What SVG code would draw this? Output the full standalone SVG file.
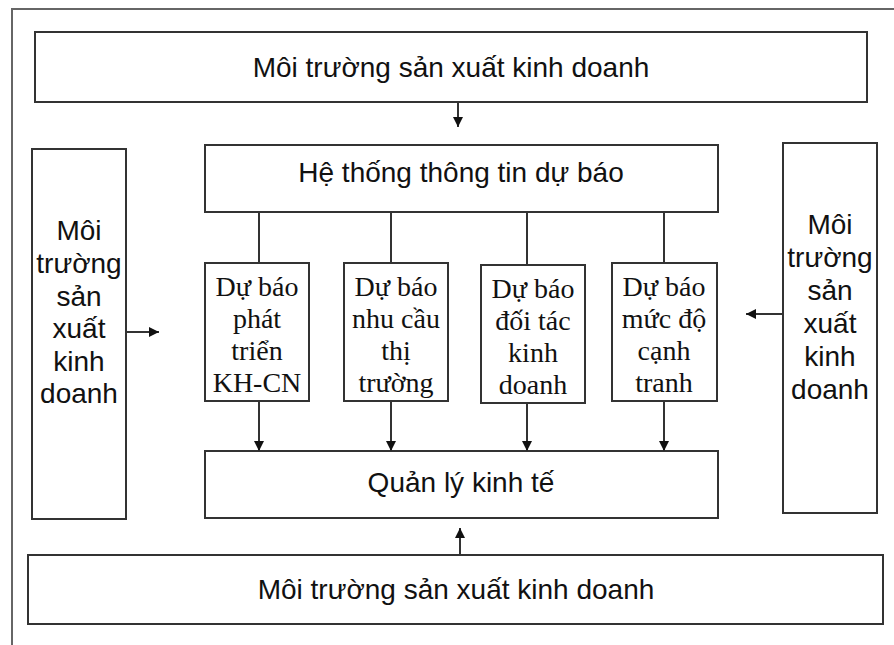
<svg xmlns="http://www.w3.org/2000/svg" width="894" height="645" viewBox="0 0 894 645">
  <style>
    .box { fill: #ffffff; stroke: #333333; stroke-width: 2; }
    .frame { fill: none; stroke: #666666; stroke-width: 2; }
    .link { fill: none; stroke: #333333; stroke-width: 2; }
    .sans { font-family: "Liberation Sans", Arial, sans-serif; font-size: 28px; fill: #111111; text-anchor: middle; }
    .serif { font-family: "Liberation Serif", "Times New Roman", serif; font-size: 28px; fill: #111111; text-anchor: middle; }
  </style>
  <defs>
    <marker id="arrow" viewBox="0 0 10 10" refX="10" refY="5" markerWidth="5.5" markerHeight="5" orient="auto" markerUnits="strokeWidth">
      <path d="M0,0 L10,5 L0,10 z" fill="#111111"/>
    </marker>
  </defs>

  <rect width="894" height="645" fill="#ffffff"/>

  <!-- open outer frame (left and top edges) -->
  <path class="frame" d="M12,645 V9 H894"/>

  <g id="env-top">
    <rect class="box" x="35" y="32" width="832" height="70"/>
    <text class="sans" x="451" y="77">Môi trường sản xuất kinh doanh</text>
  </g>

  <g id="forecast-system">
    <rect class="box" x="205" y="145" width="513" height="67"/>
    <text class="sans" x="461" y="182">Hệ thống thông tin dự báo</text>
  </g>

  <g id="env-left">
    <rect class="box" x="32" y="149" width="94" height="370"/>
    <text class="sans" x="79" y="240">Môi</text>
    <text class="sans" x="79" y="273">trường</text>
    <text class="sans" x="79" y="306">sản</text>
    <text class="sans" x="79" y="338">xuất</text>
    <text class="sans" x="79" y="371">kinh</text>
    <text class="sans" x="79" y="403">doanh</text>
  </g>

  <g id="env-right">
    <rect class="box" x="783" y="143" width="94" height="370"/>
    <text class="sans" x="830" y="234">Môi</text>
    <text class="sans" x="830" y="267">trường</text>
    <text class="sans" x="830" y="300">sản</text>
    <text class="sans" x="830" y="333">xuất</text>
    <text class="sans" x="830" y="366">kinh</text>
    <text class="sans" x="830" y="399">doanh</text>
  </g>

  <g id="forecast-tech">
    <rect class="box" x="205" y="263" width="104" height="138"/>
    <text class="serif" x="257" y="296">Dự báo</text>
    <text class="serif" x="257" y="328">phát</text>
    <text class="serif" x="257" y="360">triển</text>
    <text class="serif" x="257" y="392">KH-CN</text>
  </g>

  <g id="forecast-demand">
    <rect class="box" x="344" y="263" width="104" height="138"/>
    <text class="serif" x="396" y="296">Dự báo</text>
    <text class="serif" x="396" y="328">nhu cầu</text>
    <text class="serif" x="396" y="360">thị</text>
    <text class="serif" x="396" y="392">trường</text>
  </g>

  <g id="forecast-partner">
    <rect class="box" x="481" y="265" width="104" height="138"/>
    <text class="serif" x="533" y="298">Dự báo</text>
    <text class="serif" x="533" y="330">đối tác</text>
    <text class="serif" x="533" y="362">kinh</text>
    <text class="serif" x="533" y="394">doanh</text>
  </g>

  <g id="forecast-competition">
    <rect class="box" x="612" y="263" width="105" height="138"/>
    <text class="serif" x="664" y="296">Dự báo</text>
    <text class="serif" x="664" y="328">mức độ</text>
    <text class="serif" x="664" y="360">cạnh</text>
    <text class="serif" x="664" y="392">tranh</text>
  </g>

  <g id="economic-management">
    <rect class="box" x="205" y="451" width="513" height="67"/>
    <text class="sans" x="461" y="492">Quản lý kinh tế</text>
  </g>

  <g id="env-bottom">
    <rect class="box" x="28" y="555" width="855" height="69"/>
    <text class="sans" x="456" y="599">Môi trường sản xuất kinh doanh</text>
  </g>

  <g id="connectors">
    <line class="link" x1="458" y1="102" x2="458" y2="127" marker-end="url(#arrow)"/>
    <line class="link" x1="259" y1="212" x2="259" y2="263"/>
    <line class="link" x1="391" y1="212" x2="391" y2="263"/>
    <line class="link" x1="527" y1="212" x2="527" y2="265"/>
    <line class="link" x1="664" y1="212" x2="664" y2="263"/>
    <line class="link" x1="259" y1="401" x2="259" y2="451" marker-end="url(#arrow)"/>
    <line class="link" x1="391" y1="401" x2="391" y2="451" marker-end="url(#arrow)"/>
    <line class="link" x1="527" y1="403" x2="527" y2="451" marker-end="url(#arrow)"/>
    <line class="link" x1="664" y1="401" x2="664" y2="451" marker-end="url(#arrow)"/>
    <line class="link" x1="126" y1="332" x2="159" y2="332" marker-end="url(#arrow)"/>
    <line class="link" x1="783" y1="314" x2="746" y2="314" marker-end="url(#arrow)"/>
    <line class="link" x1="460" y1="555" x2="460" y2="528" marker-end="url(#arrow)"/>
  </g>
</svg>
